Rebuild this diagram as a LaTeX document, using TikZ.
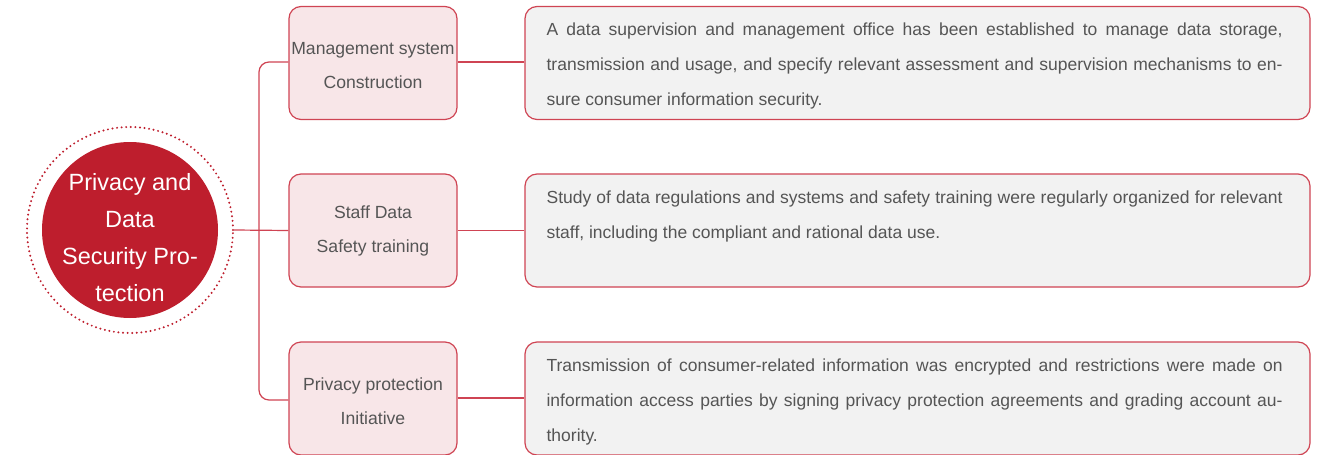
\documentclass[tikz,border=0pt]{standalone}
\usepackage{fontspec}
\setmainfont{Liberation Sans}
\definecolor{cred}{HTML}{BE1E2D}
\definecolor{lred}{HTML}{CF4453}
\definecolor{pinkf}{HTML}{F8E6E8}
\definecolor{grayf}{HTML}{F2F2F2}
\definecolor{txt}{HTML}{555555}
\tikzset{
  midbox/.style={draw=lred, line width=1.2pt, fill=pinkf, rounded corners=12pt,
    minimum width=168pt, minimum height=113pt, inner sep=0pt},
  midtext/.style={align=center, text=txt, inner sep=0pt, font=\fontsize{17.6}{34}\selectfont},
  rightbox/.style={draw=lred, line width=1.2pt, fill=grayf, rounded corners=12pt,
    minimum width=785pt, minimum height=113pt, inner sep=0pt},
  bodytext/.style={anchor=north west, inner sep=0pt, text width=736pt, align=justify, text=txt,
    font=\fontsize{17.5}{35}\selectfont},
  conn/.style={draw=lred, line width=1.2pt},
}
\begin{document}
\begin{tikzpicture}[x=1pt,y=-1pt]
\useasboundingbox (0,0) rectangle (1328,455);
% center circle
\node[circle, draw=cred, line width=2.2pt, line cap=round, dash pattern=on 0pt off 4.6pt,
  minimum size=206pt, inner sep=0pt] (outer) at (130,230) {};
\node[circle, fill=cred, minimum size=176pt, inner sep=0pt] (hub) at (130,230) {};
\node[text=white, align=center, inner sep=0pt, font=\fontsize{23.5}{37}\selectfont]
  (hubtext) at (130,238) {Privacy and\\Data\\Security Pro-\\tection};
% middle boxes
\node[midbox] (m1) at (373,63) {};
\node[midbox] (m2) at (373,230.5) {};
\node[midbox] (m3) at (373,398.5) {};
\node[midtext] (m1t) at (373,66) {Management system\\Construction};
\node[midtext] (m2t) at (373,231) {Staff Data\\Safety training};
\node[midtext] (m3t) at (373,401) {Privacy protection\\Initiative};
% right boxes
\node[rightbox] (r1) at (917.5,63) {};
\node[rightbox] (r2) at (917.5,230.5) {};
\node[rightbox] (r3) at (917.5,398.5) {};
\node[bodytext] (t1) at ([xshift=22pt,yshift=-17pt]r1.north west)
  {A data supervision and management office has been established to manage data storage,\linebreak
   transmission and usage, and specify relevant assessment and supervision mechanisms to en-\linebreak
   sure consumer information security.};
\node[bodytext] (t2) at ([xshift=22pt,yshift=-17pt]r2.north west)
  {Study of data regulations and systems and safety training were regularly organized for relevant\linebreak
   staff, including the compliant and rational data use.};
\node[bodytext] (t3) at ([xshift=22pt,yshift=-17pt]r3.north west)
  {Transmission of consumer-related information was encrypted and restrictions were made on\linebreak
   information access parties by signing privacy protection agreements and grading account au-\linebreak
   thority.};
% connectors
\draw[conn] (outer.east) -- (m2.west);
\draw[conn, rounded corners=10pt] (m1.west |- 0,62) -- (259,62) -- (259,400) -- (m3.west |- 0,400);
\draw[conn] (m1.east |- 0,62) -- (r1.west |- 0,62);
\draw[conn] (m2.east) -- (r2.west);
\draw[conn] (m3.east |- 0,398) -- (r3.west |- 0,398);
\end{tikzpicture}
\end{document}
